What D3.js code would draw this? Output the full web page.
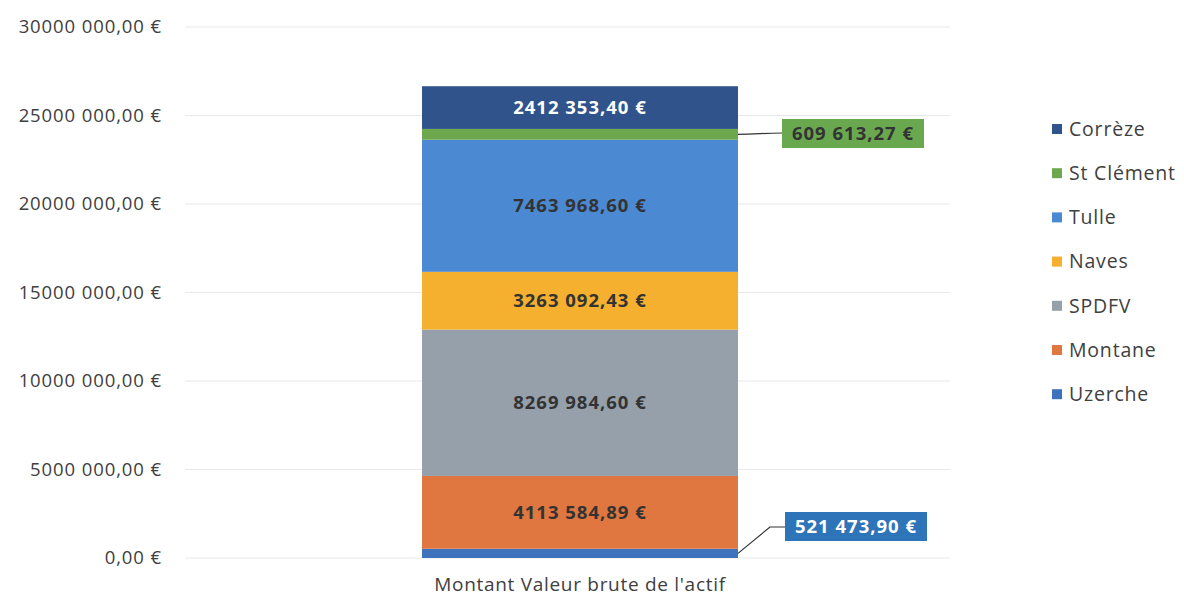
<!DOCTYPE html>
<html>
<head>
<meta charset="utf-8">
<script src="https://cdn.jsdelivr.net/npm/d3@7"></script>
<style>
  body { margin: 0; background: #fff; }
  text { font-family: "Open Sans", "Noto Sans", sans-serif; }
</style>
</head>
<body>
<div id="chart"></div>
<script>
// stacking order: bottom to top
const series = ['Uzerche', 'Montane', 'SPDFV', 'Naves', 'Tulle', 'St Clément', 'Corrèze'];
const values = [521473.90, 4113584.89, 8269984.60, 3263092.43, 7463968.60, 609613.27, 2412353.40];
const colors = ['#3f72bd', '#e07640', '#95a0ab', '#f4b02e', '#4b89d3', '#6ea84e', '#2f538a'];
const category = ["Montant Valeur brute de l'actif"];
const yTicks = [0, 5000000, 10000000, 15000000, 20000000, 25000000, 30000000];

const width = 1184, height = 596;

// Excel-ish french format seen on the chart: "2412 353,40 €"
const fmt = v => {
    const s = v.toFixed(2).split('.');
    let ip = s[0];
    if (ip.length > 3) ip = ip.slice(0, -3) + ' ' + ip.slice(-3);
    return ip + ',' + s[1] + ' €';
};

const svg = d3.select('#chart').append('svg')
    .attr('width', width)
    .attr('height', height);

const y = d3.scaleLinear().domain([0, 30000000]).range([558, 27]);
const x = d3.scaleBand().domain(category).range([185, 975])
    .paddingInner(0.6).paddingOuter(0.3);

// gridlines
svg.append('g').selectAll('line')
    .data(yTicks)
    .join('line')
    .attr('x1', 185).attr('x2', 950)
    .attr('y1', d => y(d)).attr('y2', d => y(d))
    .attr('stroke', '#e8e8e8')
    .attr('stroke-width', 1);

// y axis labels
svg.append('g').selectAll('text')
    .data(yTicks)
    .join('text')
    .attr('x', 162)
    .attr('y', d => y(d))
    .attr('dy', '0.35em')
    .attr('text-anchor', 'end')
    .attr('font-size', '18.5px')
    .attr('letter-spacing', '0.9px')
    .attr('fill', '#404040')
    .text(d => fmt(d));

// stack
let acc = 0;
const segs = values.map((v, i) => {
    const s = { name: series[i], value: v, y0: acc, y1: acc + v, color: colors[i] };
    acc += v;
    return s;
});

const bx = x(category[0]), bw = x.bandwidth();

svg.append('g').selectAll('rect')
    .data(segs)
    .join('rect')
    .attr('x', bx)
    .attr('width', bw)
    .attr('y', d => y(d.y1))
    .attr('height', d => y(d.y0) - y(d.y1))
    .attr('fill', d => d.color);

// labels inside the bar (the big segments)
const inside = segs.filter(d => d.name != 'Uzerche' && d.name != 'St Clément');
svg.append('g').selectAll('text')
    .data(inside)
    .join('text')
    .attr('x', bx + bw / 2)
    .attr('y', d => y((d.y0 + d.y1) / 2))
    .attr('dy', '0.35em')
    .attr('text-anchor', 'middle')
    .attr('font-size', '18.5px')
    .attr('letter-spacing', '1px')
    .attr('font-weight', 'bold')
    .attr('fill', d => d.name == 'Corrèze' ? '#ffffff' : '#333333')
    .text(d => fmt(d.value));

// callouts for the thin segments
const callouts = [
    { name: 'St Clément', bx: 782, by: 119, text: '#333333', fill: '#6aa84f', path: (sx, sy) => `M${sx},${sy} C${sx + 20},${sy} ${762},${133} ${782},${133}` },
    { name: 'Uzerche', bx: 785, by: 512, text: '#ffffff', fill: '#2e74b8', path: (sx, sy) => `M${sx},${sy} L770,527 L785,527` }
];
callouts.forEach(c => {
    const s = segs.find(d => d.name == c.name);
    const sx = bx + bw, sy = y((s.y0 + s.y1) / 2);
    svg.append('path')
        .attr('d', c.path(sx, sy))
        .attr('fill', 'none')
        .attr('stroke', '#333')
        .attr('stroke-width', 1.2);
    svg.append('rect')
        .attr('x', c.bx).attr('y', c.by)
        .attr('width', 142).attr('height', 29)
        .attr('fill', c.fill);
    svg.append('text')
        .attr('x', c.bx + 71).attr('y', c.by + 14.5)
        .attr('dy', '0.35em')
        .attr('text-anchor', 'middle')
        .attr('font-size', '18.5px')
        .attr('letter-spacing', '1px')
        .attr('font-weight', 'bold')
        .attr('fill', c.text)
        .text(fmt(s.value));
});

// x category label
svg.append('text')
    .attr('x', bx + bw / 2)
    .attr('y', 591)
    .attr('text-anchor', 'middle')
    .attr('font-size', '19px')
    .attr('letter-spacing', '0.7px')
    .attr('fill', '#404040')
    .text(category[0]);

// legend, top to bottom = reverse of stack
const legendItems = segs.slice().reverse();
const lg = svg.append('g').selectAll('g')
    .data(legendItems)
    .join('g')
    .attr('transform', (d, i) => `translate(1052, ${129 + i * 44.2})`);
lg.append('rect')
    .attr('x', 0).attr('y', -5)
    .attr('width', 10).attr('height', 10)
    .attr('fill', d => d.color);
lg.append('text')
    .attr('x', 17)
    .attr('dy', '0.35em')
    .attr('font-size', '19.5px')
    .attr('letter-spacing', '0.8px')
    .attr('fill', '#404040')
    .text(d => d.name);
</script>
</body>
</html>
